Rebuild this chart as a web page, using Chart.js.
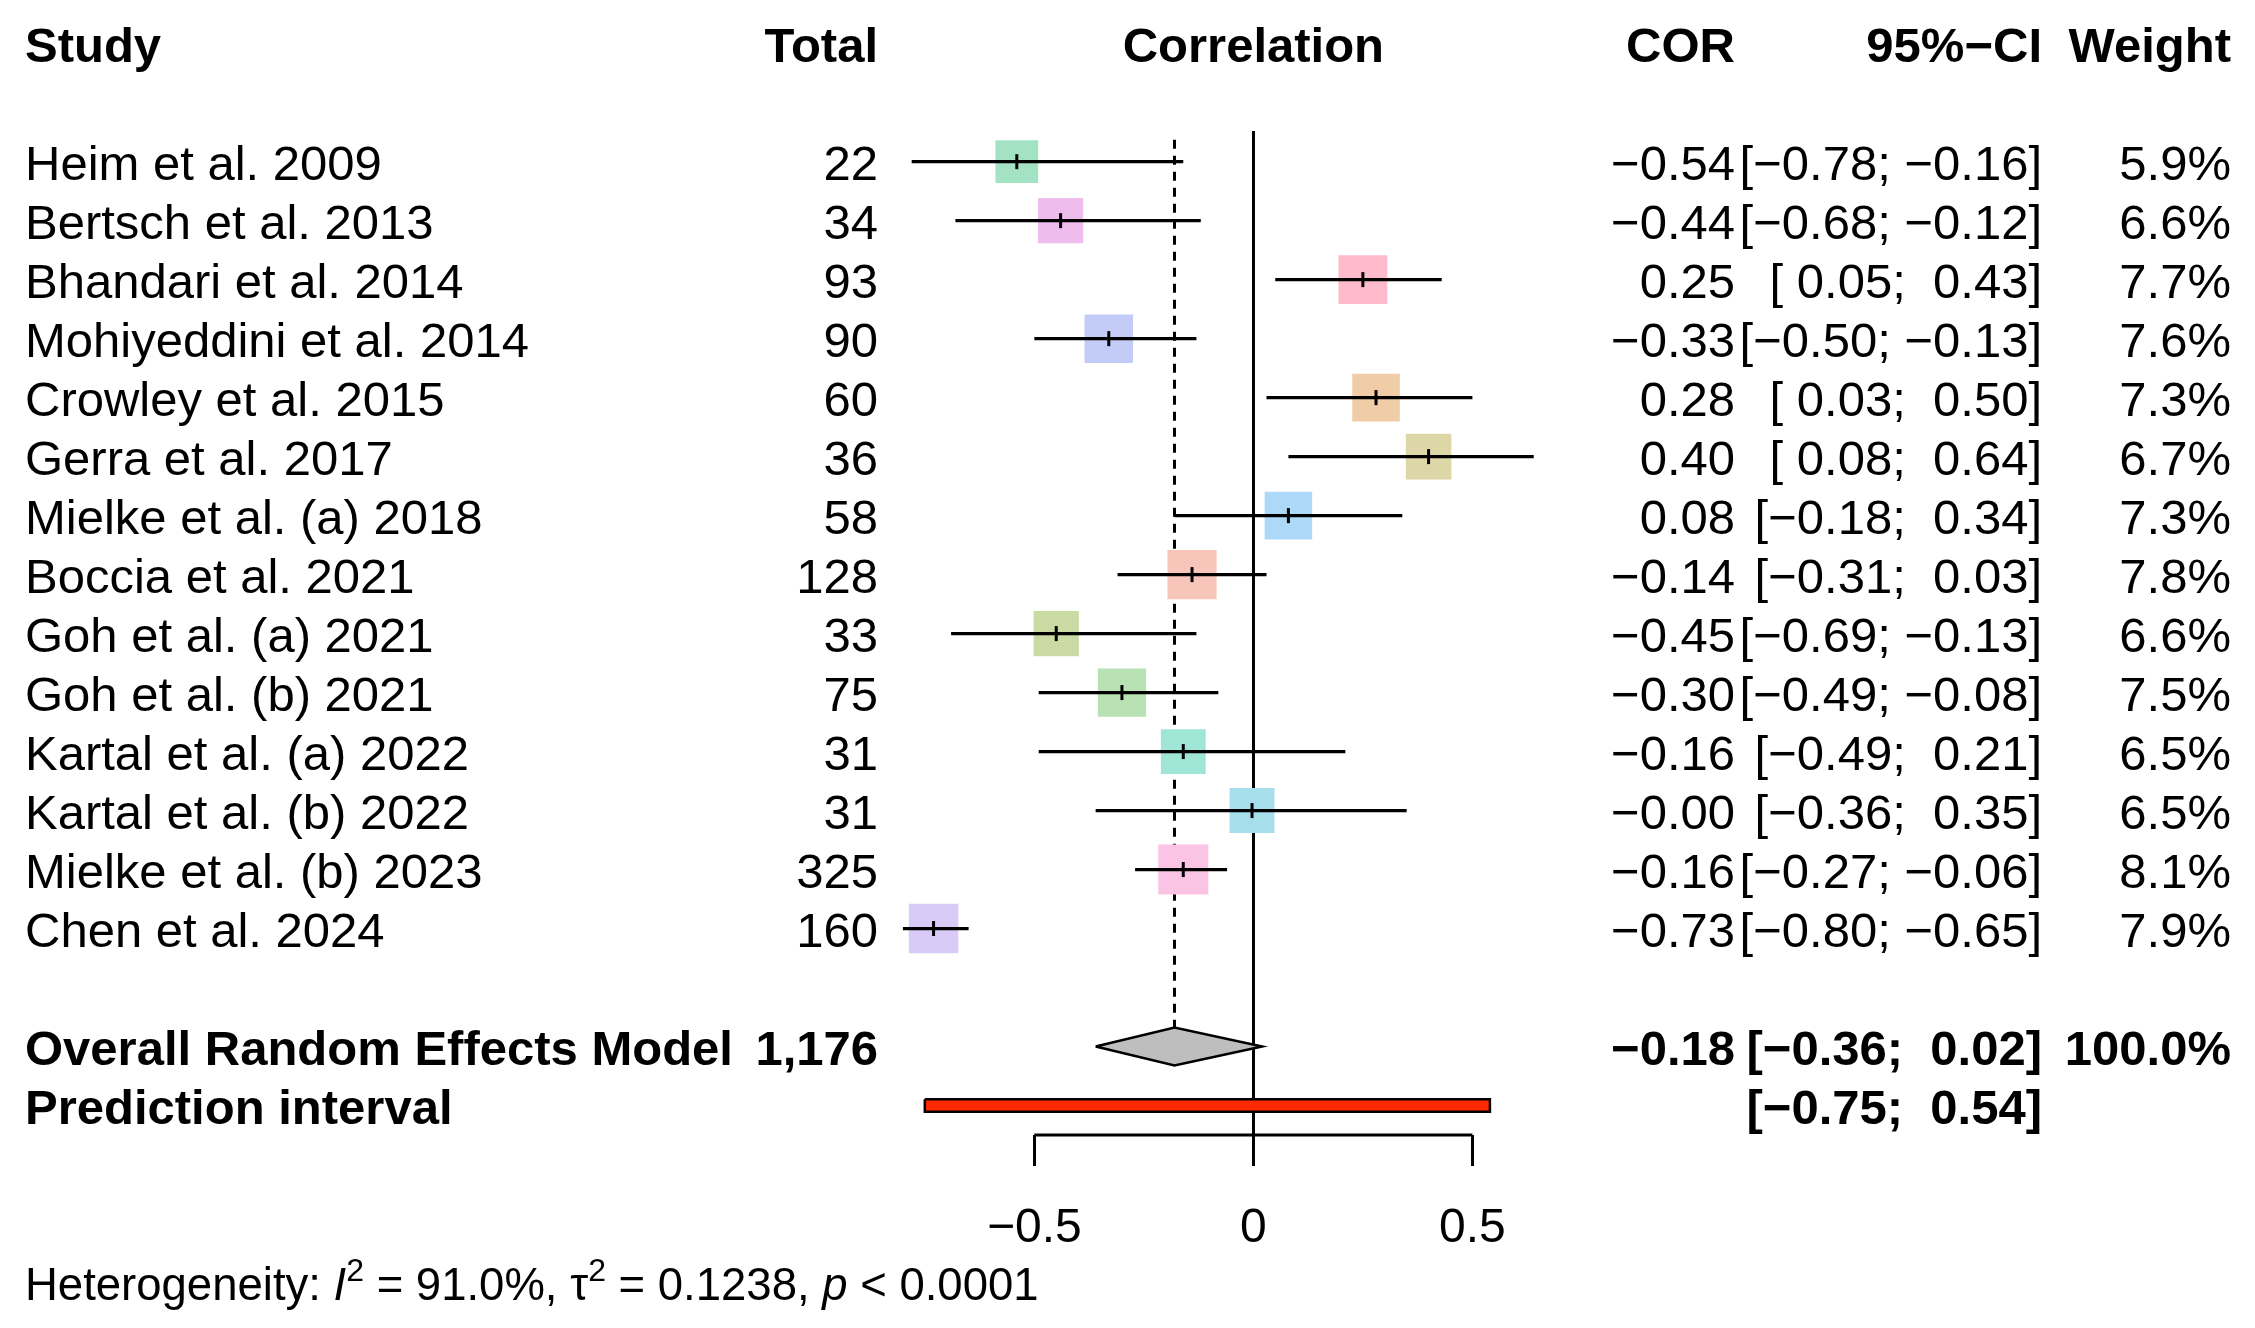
<!DOCTYPE html>
<html>
<head>
<meta charset="utf-8">
<title>Forest plot - correlation</title>
<script src="https://cdn.jsdelivr.net/npm/chart.js@4.4.1/dist/chart.umd.min.js"></script>
<style>
  html, body { margin: 0; padding: 0; background: #fff; overflow: hidden; }
  #wrap { width: 2255px; height: 1328px; }
</style>
</head>
<body>
<div id="wrap"><canvas id="forest" width="2255" height="1328"></canvas></div>
<script>
// ---- data ----
const studies = [
    'Heim et al. 2009', 'Bertsch et al. 2013', 'Bhandari et al. 2014', 'Mohiyeddini et al. 2014',
    'Crowley et al. 2015', 'Gerra et al. 2017', 'Mielke et al. (a) 2018', 'Boccia et al. 2021',
    'Goh et al. (a) 2021', 'Goh et al. (b) 2021', 'Kartal et al. (a) 2022', 'Kartal et al. (b) 2022',
    'Mielke et al. (b) 2023', 'Chen et al. 2024'
];
const totals  = [22, 34, 93, 90, 60, 36, 58, 128, 33, 75, 31, 31, 325, 160];
const cor     = [-0.54, -0.44, 0.25, -0.33, 0.28, 0.40, 0.08, -0.14, -0.45, -0.30, -0.16, -0.003, -0.16, -0.73];
const lower   = [-0.78, -0.68, 0.05, -0.50, 0.03, 0.08, -0.18, -0.31, -0.69, -0.49, -0.49, -0.36, -0.27, -0.80];
const upper   = [-0.16, -0.12, 0.43, -0.13, 0.50, 0.64, 0.34, 0.03, -0.13, -0.08, 0.21, 0.35, -0.06, -0.65];
const weights = [5.9, 6.6, 7.7, 7.6, 7.3, 6.7, 7.3, 7.8, 6.6, 7.5, 6.5, 6.5, 8.1, 7.9];
const boxColors = [
    '#A3E3C4', '#EEBDEE', '#FDBBCB', '#C3CCF7', '#F0CDA6', '#DDD6A6', '#AED8F7',
    '#F7C5BA', '#C9DBA3', '#B8E2B3', '#A0E6D6', '#A6DFEB', '#FCC4E4', '#D9CAF7'
];
const overallEst = -0.18;
const overallCI = [-0.36, 0.02];
const overallWeight = 100.0;
const predictionCI = [-0.75, 0.54];
const xTicks = [-0.5, 0, 0.5];
const heterogeneity = { i2: '91.0%', tau2: '0.1238', p: '< 0.0001' };

// ---- layout helpers ----
const FONT = '"Liberation Sans", Arial, Helvetica, sans-serif';
const COL = { study: 25, total: 878, cor: 1735, ci: 2042, weight: 2231 };
const rowOverall = studies.length + 1;
const rowPred = studies.length + 2;
const yMin = -0.52, yMax = 16.5;   // yMax is where the x axis line sits
const diamondHalf = 0.32;
const predHalf = 0.105;

const minus = s => s.replace('-', '\u2212');
const fmt = v => minus(v.toFixed(2));
const pad = v => (v < 0 ? '' : ' ') + fmt(v);
const ciText = (lo, hi) => '[' + pad(lo) + '; ' + pad(hi) + ']';
const boxSide = w => 17.6 * Math.sqrt(w);

// CI segments, separated by gaps
const ciData = [];
cor.forEach((v, i) => {
    ciData.push({ x: lower[i], y: i }, { x: upper[i], y: i }, { x: null, y: null });
});

const textColumns = {
    id: 'textColumns',
    afterDraw(chart) {
        const { ctx, scales: { x, y } } = chart;
        ctx.save();
        ctx.fillStyle = '#000';
        ctx.textBaseline = 'alphabetic';
        const put = (txt, px, py, align, bold) => {
            ctx.font = (bold ? 'bold ' : '') + '49px ' + FONT;
            ctx.textAlign = align;
            ctx.fillText(txt, px, py);
        };

        // header
        const hy = 62;
        put('Study', COL.study, hy, 'left', true);
        put('Total', COL.total, hy, 'right', true);
        put('Correlation', x.getPixelForValue(0), hy, 'center', true);
        put('COR', COL.cor, hy, 'right', true);
        put('95%\u2212CI', COL.ci, hy, 'right', true);
        put('Weight', COL.weight, hy, 'right', true);

        // study rows
        studies.forEach((s, i) => {
            const py = y.getPixelForValue(i) + 18;
            put(s, COL.study, py, 'left', false);
            put(String(totals[i]), COL.total, py, 'right', false);
            put(fmt(cor[i]), COL.cor, py, 'right', false);
            put(ciText(lower[i], upper[i]), COL.ci, py, 'right', false);
            put(weights[i].toFixed(1) + '%', COL.weight, py, 'right', false);
        });

        // pooled rows
        const oy = y.getPixelForValue(rowOverall) + 18;
        const sumN = totals.reduce((a, b) => a + b, 0);
        put('Overall Random Effects Model', COL.study, oy, 'left', true);
        put(sumN.toLocaleString('en-US'), COL.total, oy, 'right', true);
        put(fmt(overallEst), COL.cor, oy, 'right', true);
        put(ciText(overallCI[0], overallCI[1]), COL.ci, oy, 'right', true);
        put(overallWeight.toFixed(1) + '%', COL.weight, oy, 'right', true);

        const py2 = y.getPixelForValue(rowPred) + 18;
        put('Prediction interval', COL.study, py2, 'left', true);
        put(ciText(predictionCI[0], predictionCI[1]), COL.ci, py2, 'right', true);

        // heterogeneity line, drawn piece by piece
        let hx = COL.study;
        const hb = 1300;
        ctx.textAlign = 'left';
        const piece = (txt, font, dy) => {
            ctx.font = font;
            ctx.fillText(txt, hx, hb + (dy || 0));
            hx += ctx.measureText(txt).width;
        };
        const normal = '45.5px ' + FONT;
        const italic = 'italic 45.5px ' + FONT;
        const sup = '32px ' + FONT;
        piece('Heterogeneity: ', normal);
        piece('I', italic);
        piece('2', sup, -19);
        piece(' = ' + heterogeneity.i2 + ', ', normal);
        piece('\u03C4', normal);
        piece('2', sup, -19);
        piece(' = ' + heterogeneity.tau2 + ', ', normal);
        piece('p', italic);
        piece(' ' + heterogeneity.p, normal);
        ctx.restore();
    }
};

const chart = new Chart(document.getElementById('forest'), {
    type: 'scatter',
    data: {
        datasets: [
            {
                // dotted line at the pooled estimate
                type: 'line',
                data: [{ x: overallEst, y: -0.37 }, { x: overallEst, y: rowOverall - diamondHalf }],
                borderColor: '#000',
                borderWidth: 3,
                borderDash: [9, 7],
                pointRadius: 0,
                showLine: true,
                fill: false,
                clip: false,
                order: 6
            },
            {
                // weighted squares
                type: 'scatter',
                data: cor.map((v, i) => ({ x: v, y: i })),
                pointStyle: 'rect',
                pointRadius: c => boxSide(weights[c.dataIndex]) / Math.SQRT2,
                pointHoverRadius: c => boxSide(weights[c.dataIndex]) / Math.SQRT2,
                backgroundColor: boxColors,
                borderWidth: 0,
                clip: false,
                order: 5
            },
            {
                // confidence intervals
                type: 'line',
                data: ciData,
                borderColor: '#000',
                borderWidth: 3.2,
                pointRadius: 0,
                showLine: true,
                spanGaps: false,
                fill: false,
                clip: false,
                order: 3
            },
            {
                // estimate marks
                type: 'scatter',
                data: cor.map((v, i) => ({ x: v, y: i })),
                pointStyle: 'line',
                rotation: 90,
                pointRadius: 7.5,
                pointHoverRadius: 7.5,
                borderColor: '#000',
                borderWidth: 3,
                clip: false,
                order: 1
            },
            {
                // pooled diamond
                type: 'line',
                data: [
                    { x: overallCI[0], y: rowOverall },
                    { x: overallEst, y: rowOverall - diamondHalf },
                    { x: overallCI[1], y: rowOverall },
                    { x: overallEst, y: rowOverall + diamondHalf },
                    { x: overallCI[0], y: rowOverall }
                ],
                borderColor: '#000',
                borderWidth: 2.5,
                backgroundColor: '#BEBEBE',
                fill: 'shape',
                pointRadius: 0,
                showLine: true,
                borderJoinStyle: 'miter',
                clip: false,
                order: 4
            },
            {
                // prediction interval bar
                type: 'line',
                data: [
                    { x: predictionCI[0], y: rowPred - predHalf },
                    { x: predictionCI[1], y: rowPred - predHalf },
                    { x: predictionCI[1], y: rowPred + predHalf },
                    { x: predictionCI[0], y: rowPred + predHalf },
                    { x: predictionCI[0], y: rowPred - predHalf }
                ],
                borderColor: '#000',
                borderWidth: 2.5,
                backgroundColor: '#FF2A00',
                fill: 'shape',
                pointRadius: 0,
                showLine: true,
                borderJoinStyle: 'miter',
                clip: false,
                order: 4
            },
            {
                // x axis line, only over the tick range
                type: 'line',
                data: [{ x: xTicks[0], y: yMax }, { x: xTicks[xTicks.length - 1], y: yMax }],
                borderColor: '#000',
                borderWidth: 3,
                pointRadius: 0,
                showLine: true,
                fill: false,
                clip: false,
                order: 2
            }
        ]
    },
    options: {
        responsive: false,
        devicePixelRatio: 1,
        animation: false,
        events: [],
        layout: { padding: { left: 881, right: 695, top: 131, bottom: 43 } },
        plugins: { legend: { display: false }, tooltip: { enabled: false } },
        scales: {
            x: {
                type: 'linear',
                min: -0.85,
                max: 0.7,
                afterBuildTicks: scale => { scale.ticks = xTicks.map(v => ({ value: v })); },
                afterFit: scale => { scale.height = 150; },
                ticks: {
                    color: '#000',
                    padding: 34,
                    maxRotation: 0,
                    autoSkip: false,
                    font: { size: 48, family: FONT },
                    callback: v => (v === 0 ? '0' : minus(String(v)))
                },
                grid: {
                    drawOnChartArea: true,
                    color: c => (c.tick && c.tick.value === 0 ? '#000' : 'rgba(0,0,0,0)'),
                    tickColor: '#000',
                    lineWidth: 3,
                    tickWidth: 3,
                    tickLength: 31
                },
                border: { display: false }
            },
            y: {
                type: 'linear',
                display: false,
                reverse: true,
                min: yMin,
                max: yMax
            }
        }
    },
    plugins: [textColumns]
});
</script>
</body>
</html>
